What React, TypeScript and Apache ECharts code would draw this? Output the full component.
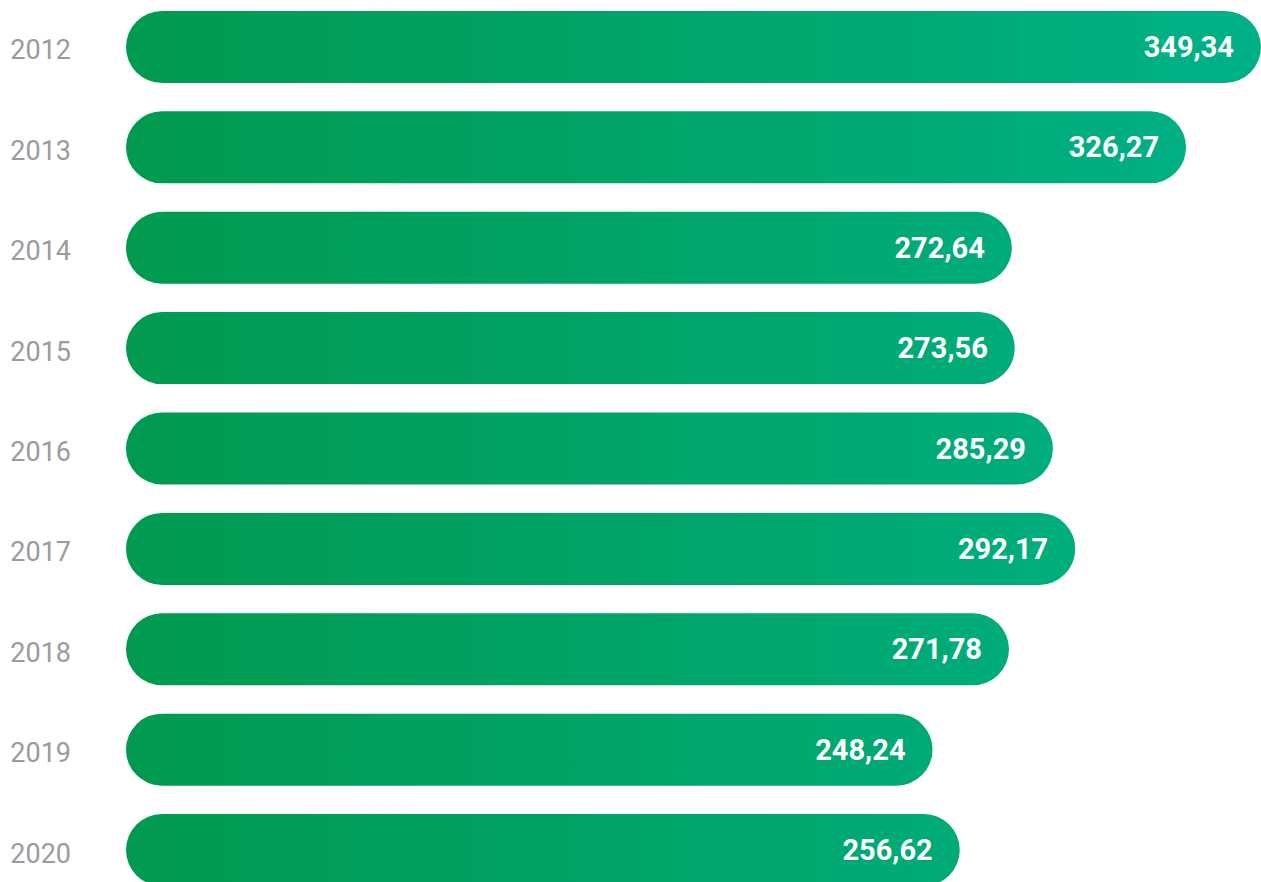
import React, { useEffect, useRef } from "react";
import * as echarts from "echarts";

const years = ["2012", "2013", "2014", "2015", "2016", "2017", "2018", "2019", "2020"];
const values = [349.34, 326.27, 272.64, 273.56, 285.29, 292.17, 271.78, 248.24, 256.62];
const axisMax = 349.34;

export default function App() {
  const ref = useRef<HTMLDivElement>(null);
  useEffect(() => {
    if (!ref.current) return;
    const chart = echarts.init(ref.current, null, { renderer: "svg" });
    chart.setOption({
      animation: false,
      backgroundColor: "#ffffff",
      grid: { left: 126, right: 0, top: 0.8, bottom: 5.8, containLabel: false },
      xAxis: { type: "value", min: 0, max: axisMax, show: false },
      yAxis: {
        type: "category",
        data: years,
        inverse: true,
        axisLine: { show: false },
        axisTick: { show: false },
        splitLine: { show: false },
        axisLabel: {
          margin: 55,
          formatter: "{y|{value}}",
          rich: {
            y: {
              color: "#9b9b9f",
              fontFamily: "Roboto",
              fontSize: 27,
              padding: [7, 0, 0, 0],
            },
          },
        },
      },
      series: [
        {
          type: "bar",
          data: values,
          barWidth: 72,
          itemStyle: {
            borderRadius: 36,
            color: new echarts.graphic.LinearGradient(
              126, 0, 1261, 0,
              [
                { offset: 0, color: "#009a4f" },
                { offset: 1, color: "#00b187" },
              ],
              true
            ),
          },
          label: {
            show: true,
            position: "insideRight",
            distance: 27,
            color: "#ffffff",
            fontFamily: "Roboto",
            fontWeight: "bold",
            fontSize: 29,
            padding: [0, 0, 3, 0],
            formatter: (p: any) => Number(p.value).toFixed(2).replace(".", ","),
          },
        },
      ],
    });
    return () => chart.dispose();
  }, []);
  return (
    <div
      ref={ref}
      style={{ position: "absolute", left: 0, top: -4, width: 1261, height: 910 }}
    />
  );
}
